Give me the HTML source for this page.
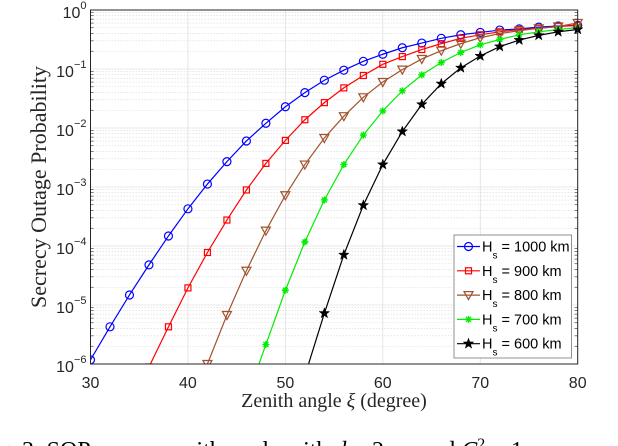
<!DOCTYPE html>
<html><head><meta charset="utf-8"><style>
html,body{margin:0;padding:0;background:#fff;overflow:hidden}
svg{display:block}
</style></head><body>
<svg id="chart" width="618" height="446" xmlns="http://www.w3.org/2000/svg" font-family="Liberation Sans, sans-serif">
<g id="grid"></g>
<g id="series"></g>
<rect x="90.5" y="10" width="487.2" height="354" fill="none" stroke="#262626" stroke-width="1"/>
<g id="ticks"></g>
<text x="334" y="407" text-anchor="middle" font-family="Liberation Serif, serif" font-size="20" fill="#262626">Zenith angle <tspan font-style="italic">ξ</tspan> (degree)</text>
<text transform="translate(46,187) rotate(-90)" text-anchor="middle" font-family="Liberation Serif, serif" font-size="22" fill="#262626">Secrecy Outage Probability</text>
<g id="legend"></g>
<text x="-2" y="458" font-family="Liberation Serif, serif" font-size="24" fill="#000">g. 3: SOP versus zenith angle with <tspan font-style="italic">d</tspan>   = 2 m, and <tspan font-style="italic">C</tspan><tspan dy="-9" font-size="16">2</tspan><tspan dy="9">   = 1</tspan></text>
</svg>
<script>
const xs = [30,32,34,36,38,40,42,44,46,48,50,52,54,56,58,60,62,64,66,68,70,72,74,76,78,80];
const seriesNames = ["H_s = 1000 km","H_s = 900 km","H_s = 800 km","H_s = 700 km","H_s = 600 km"];
const legendKm = ["1000 km","900 km","800 km","700 km","600 km"];
const logBlue = [-5.93,-5.37,-4.83,-4.32,-3.83,-3.37,-2.95,-2.57,-2.22,-1.92,-1.64,-1.40,-1.19,-1.02,-0.87,-0.75,-0.64,-0.56,-0.48,-0.42,-0.38,-0.34,-0.32,-0.29,-0.27,-0.26];
const logRed = [null,null,null,-6.05,-5.37,-4.71,-4.11,-3.56,-3.05,-2.60,-2.21,-1.86,-1.57,-1.32,-1.11,-0.92,-0.79,-0.67,-0.57,-0.48,-0.42,-0.37,-0.33,-0.31,-0.28,-0.26];
const logBrown = [null,null,null,null,null,null,-6.0,-5.17,-4.42,-3.74,-3.14,-2.62,-2.17,-1.80,-1.48,-1.22,-1.01,-0.83,-0.69,-0.57,-0.47,-0.40,-0.35,-0.31,-0.28,-0.22];
const logGreen = [null,null,null,null,null,null,null,null,-6.6,-5.67,-4.75,-3.93,-3.22,-2.62,-2.12,-1.71,-1.37,-1.10,-0.89,-0.72,-0.59,-0.50,-0.42,-0.37,-0.33,-0.30];
const logBlack = [null,null,null,null,null,null,null,null,null,null,null,-6.2,-5.14,-4.15,-3.31,-2.62,-2.06,-1.60,-1.25,-0.98,-0.78,-0.62,-0.51,-0.43,-0.37,-0.33];
const xTicks = [30,40,50,60,70,80];
const yTicks = [0,-1,-2,-3,-4,-5,-6];

const NS="http://www.w3.org/2000/svg";
const L=90.5,R=577.7,T=10,B=364;
const xScale=v=>L+(v-30)/50*(R-L);
const yScale=lg=>T+(-lg)/6*(B-T);
function mk(tag,attrs,parent){const e=document.createElementNS(NS,tag);for(const k in attrs)e.setAttribute(k,attrs[k]);parent.appendChild(e);return e;}

const grid=document.getElementById('grid');
const ticks=document.getElementById('ticks');
for(let d=0;d<6;d++){for(let m=2;m<=9;m++){const y=yScale(-(d+1)+Math.log10(m));
const g=mk('line',{x1:L,x2:R,y1:y,y2:y,stroke:'#d8d8d8','stroke-width':0.6,'stroke-dasharray':'1.5,1.5'},grid);


const t1=mk('line',{x1:L,x2:L+3,y1:y,y2:y,stroke:'#262626','stroke-width':0.6},ticks);


const t2=mk('line',{x1:R,x2:R-3,y1:y,y2:y,stroke:'#262626','stroke-width':0.6},ticks);

}}
yTicks.forEach(p=>{const y=yScale(p);
const g=mk('line',{x1:L,x2:R,y1:y,y2:y,stroke:'#e0e0e0','stroke-width':0.8},grid);


const t=mk('text',{x:L-4,y:y+8,'text-anchor':'end','font-size':16,fill:'#262626'},ticks);


t.innerHTML='10<tspan dy="-9" font-size="11">'+(p===0?'0':'−'+(-p))+'</tspan>';});
xTicks.forEach(v=>{const x=xScale(v);
const g=mk('line',{x1:x,x2:x,y1:T,y2:B,stroke:'#e0e0e0','stroke-width':0.8},grid);


const t=mk('text',{x:x,y:B+24,'text-anchor':'middle','font-size':16,fill:'#262626'},ticks);


t.textContent=v;});

const defs=mk('defs',{},document.getElementById('chart'));
const cp=mk('clipPath',{id:'clip'},defs);mk('rect',{x:L,y:T-6,width:R-L+6,height:B-T+6},cp);

function marker(type,x,y,color,parent){let e;
if(type==='o')e=mk('circle',{cx:x,cy:y,r:4,fill:'none',stroke:color,'stroke-width':1.2},parent);
else if(type==='s')e=mk('rect',{x:x-3,y:y-3,width:6,height:6,fill:'none',stroke:color,'stroke-width':1.2},parent);
else if(type==='v')e=mk('path',{d:`M${x-4.5},${y-3.5}L${x+4.5},${y-3.5}L${x},${y+4.5}Z`,fill:'none',stroke:color,'stroke-width':1.2},parent);
else if(type==='*')e=mk('path',{d:`M${x-3.5},${y}H${x+3.5}M${x},${y-3.5}V${y+3.5}M${x-2.5},${y-2.5}L${x+2.5},${y+2.5}M${x-2.5},${y+2.5}L${x+2.5},${y-2.5}`,stroke:color,'stroke-width':1.4},parent);
else {let pts=[];for(let i=0;i<10;i++){const r=i%2?2.2:5.5,a=-Math.PI/2+i*Math.PI/5;pts.push((x+r*Math.cos(a)).toFixed(2)+','+(y+r*Math.sin(a)).toFixed(2));}
e=mk('polygon',{points:pts.join(' '),fill:color,stroke:color,'stroke-width':0.5},parent);}

}

const allSeries=[[logBlue,'#0000ff','o'],[logRed,'#ff0000','s'],[logBrown,'#a0522d','v'],[logGreen,'#00ee00','*'],[logBlack,'#000000','p']];
const sg=document.getElementById('series');
allSeries.forEach((s,i)=>{const g=mk('g',{'clip-path':'url(#clip)'},sg);


let pts=[];s[0].forEach((v,j)=>{if(v!==null)pts.push(xScale(xs[j]).toFixed(2)+','+yScale(v).toFixed(2));});
const pl=mk('polyline',{points:pts.join(' '),fill:'none',stroke:s[1],'stroke-width':1.2},g);


s[0].forEach((v,j)=>{if(v!==null&&v>=-6.05)marker(s[2],xScale(xs[j]),yScale(v),s[1],g);});});

const lg=document.getElementById('legend');
const box=mk('rect',{x:454,y:235,width:117.5,height:123,fill:'#fff',stroke:'#777','stroke-width':0.8},lg);


allSeries.forEach((s,i)=>{const y=246.5+i*24.3;const g=mk('g',{},lg);


mk('line',{x1:457,x2:480,y1:y,y2:y,stroke:s[1],'stroke-width':1.2},g);
marker(s[2],468.5,y,s[1],g);
const t=mk('text',{x:482,y:y+5,'font-size':14.5,fill:'#000'},g);
t.innerHTML='H<tspan dy="7" font-size="10">s</tspan><tspan dy="-7"> = '+legendKm[i]+'</tspan>';});
</script>
</body></html>
